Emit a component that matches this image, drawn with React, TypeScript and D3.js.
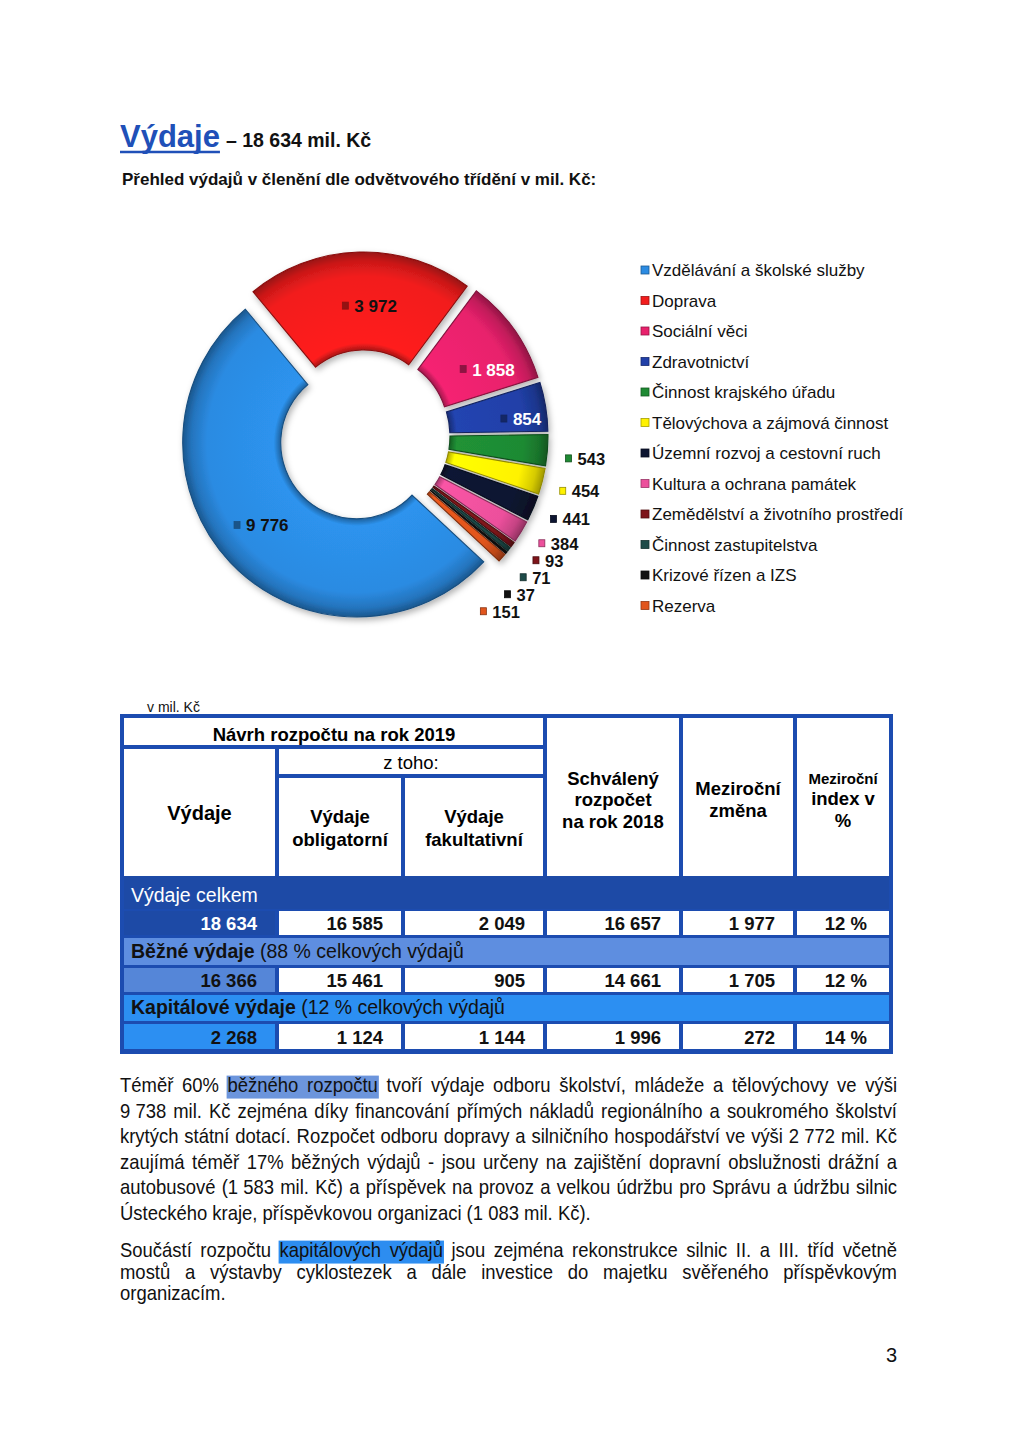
import React from 'react';
import * as d3 from 'd3';

// ---------- DATA ----------
const categories = [
  'Vzdělávání a školské služby',
  'Doprava',
  'Sociální věci',
  'Zdravotnictví',
  'Činnost krajského úřadu',
  'Tělovýchova a zájmová činnost',
  'Územní rozvoj a cestovní ruch',
  'Kultura a ochrana památek',
  'Zemědělství a životního prostředí',
  'Činnost zastupitelstva',
  'Krizové řízen a IZS',
  'Rezerva',
];
const values = [9776, 3972, 1858, 854, 543, 454, 441, 384, 93, 71, 37, 151];
const sliceColors = [
  '#2b8be2', '#f21d1d', '#e8216c', '#2140a8', '#1e8a33', '#fff200',
  '#0d1531', '#ec509c', '#7e141a', '#1e4b49', '#111111', '#e1551d',
];

const headTitle = 'Výdaje';
const headTotal = '– 18 634 mil. Kč';
const subTitle = 'Přehled výdajů v členění dle odvětvového třídění v mil. Kč:';
const unitNote = 'v mil. Kč';

const rowGroups = ['Výdaje celkem', 'Běžné výdaje', 'Kapitálové výdaje'];
const rowNotes = ['', ' (88 % celkových výdajů', ' (12 % celkových výdajů'];
const budget2019 = [18634, 16366, 2268];
const obligatory = [16585, 15461, 1124];
const facultative = [2049, 905, 1144];
const approved2018 = [16657, 14661, 1996];
const yoyChange = [1977, 1705, 272];
const yoyIndex = [12, 12, 14];

const paragraph1 = [
  'Téměř 60% běžného rozpočtu tvoří výdaje odboru školství, mládeže a tělovýchovy ve výši',
  '9\u00a0738 mil. Kč zejména díky financování přímých nákladů regionálního a soukromého školství',
  'krytých státní dotací. Rozpočet odboru dopravy a silničního hospodářství ve výši 2\u00a0772 mil. Kč',
  'zaujímá téměř 17% běžných výdajů - jsou určeny na zajištění dopravní obslužnosti drážní a',
  'autobusové (1\u00a0583 mil. Kč) a příspěvek na provoz a velkou údržbu pro Správu a údržbu silnic',
  'Ústeckého kraje, příspěvkovou organizaci (1\u00a0083 mil. Kč).',
];
const paragraph2 = [
  'Součástí rozpočtu kapitálových výdajů jsou zejména rekonstrukce silnic II. a III. tříd včetně',
  'mostů a výstavby cyklostezek a dále investice do majetku svěřeného příspěvkovým',
  'organizacím.',
];
const pageNumber = '3';

// ---------- HELPERS ----------
const FF = '"Liberation Sans", Arial, Helvetica, sans-serif';
const locale = d3.formatLocale({ decimal: ',', thousands: '\u00a0', grouping: [3], currency: ['', ''] });
const fmt = locale.format(',d');

let _ctx: CanvasRenderingContext2D | null = null;
function textWidth(s: string, weight: number, size: number) {
  if (!_ctx) _ctx = document.createElement('canvas').getContext('2d');
  if (!_ctx) return s.length * size * 0.5;
  _ctx.font = `${weight} ${size}px "Liberation Sans"`;
  return _ctx.measureText(s).width;
}

// ---------- DONUT ----------
function Donut() {
  const cx = 364, cy = 436, R = 174, r0 = 76, explode = 10;
  const start = (133 * Math.PI) / 180;
  const pieGen = d3.pie<number>().sort(null).value((d) => d)
    .startAngle(start).endAngle(start + 2 * Math.PI).padAngle(0.005);
  const arcs = pieGen(values);
  const arcGen = d3.arc<d3.PieArcDatum<number>>().innerRadius(r0).outerRadius(R);
  const labelSize = 17;
  const smallSize = 16.5;
  const deg = Math.PI / 180;

  // outside label layout for small slices
  const L = 192, Lx = 222, gap = 17, yShift = 8;
  let prevY = -Infinity;
  const outside: Record<number, { x: number; y: number }> = {};
  arcs.forEach((a, i) => {
    if (a.value >= 800) return;
    const mid = (a.startAngle + a.endAngle) / 2;
    let y = cy + yShift - L * Math.cos(mid);
    y = Math.max(y, prevY + gap);
    prevY = y;
    const dy = y - cy;
    const x = cx + Math.sqrt(Math.max(0, Lx * Lx - dy * dy));
    outside[i] = { x, y };
  });

  return (
    <g>
      <defs>
        <filter id="shadow" x="-20%" y="-20%" width="140%" height="140%">
          <feDropShadow dx="2" dy="3" stdDeviation="3" floodColor="#000" floodOpacity="0.3" />
        </filter>
        {arcs.map((a, i) => {
          const c = d3.color(sliceColors[i])!;
          return (
            <radialGradient key={i} id={`sg${i}`} gradientUnits="userSpaceOnUse" cx={0} cy={0} r={R}>
              <stop offset={r0 / R} stopColor={c.darker(1).formatHex()} />
              <stop offset={(r0 + 7) / R} stopColor={c.brighter(0.15).formatHex()} />
              <stop offset={0.86} stopColor={c.formatHex()} />
              <stop offset={0.95} stopColor={c.darker(0.5).formatHex()} />
              <stop offset={1} stopColor={c.darker(1.3).formatHex()} />
            </radialGradient>
          );
        })}
      </defs>
      <g filter="url(#shadow)">
        {arcs.map((a, i) => {
          const mid = (a.startAngle + a.endAngle) / 2;
          const dx = explode * Math.sin(mid), dy = -explode * Math.cos(mid);
          return (
            <g key={i} transform={`translate(${cx + dx},${cy + dy})`}>
              <path d={arcGen(a) || ''} fill={`url(#sg${i})`}
                stroke={d3.color(sliceColors[i])!.darker(1.6).formatHex()} strokeWidth={1.1} />
            </g>
          );
        })}
      </g>
      {arcs.map((a, i) => {
        const big = a.value >= 800;
        const size = big ? labelSize : smallSize;
        const txt = fmt(a.value);
        const tw = textWidth(txt, 700, size);
        const total = 13 + tw;
        let gx: number, gy: number;
        if (big) {
          const m0 = (a.startAngle + a.endAngle) / 2;
          const mid = m0 + 4 * deg;
          const sx = cx + explode * Math.sin(m0), sy = cy - explode * Math.cos(m0);
          const narrow = a.endAngle - a.startAngle < 0.35;
          const rad = narrow ? R - 6 - total / 2 : 124;
          gx = sx + rad * Math.sin(mid) + (i === 2 ? 9 : 0);
          gy = sy - rad * Math.cos(mid) + (narrow ? -2 : 4);
        } else {
          gx = outside[i].x;
          gy = outside[i].y;
        }
        const left = gx - total / 2;
        const white = i === 2 || i === 3;
        const c = d3.color(sliceColors[i])!;
        return (
          <g key={`l${i}`}>
            <rect x={left + 1} y={gy - 4} width={6} height={7} fill={big ? c.darker(1.4).formatHex() : sliceColors[i]}
              stroke={c.darker(1.5).formatHex()} strokeWidth={0.8} />
            <text x={left + 13} y={gy + 6} fontSize={size} fontWeight={700}
              fill={white ? '#ffffff' : '#111111'}>{txt}</text>
          </g>
        );
      })}
    </g>
  );
}

function Legend() {
  const x = 641, y0 = 270, step = 30.5;
  return (
    <g>
      {categories.map((c, i) => {
        const col = d3.color(sliceColors[i])!;
        return (
          <g key={i} transform={`translate(${x},${y0 + i * step})`}>
            <rect x={0} y={-4} width={8} height={8} fill={sliceColors[i]} stroke={col.darker(1.2).formatHex()} strokeWidth={0.8} />
            <text x={11} y={6} fontSize={17} fill="#111">{c}</text>
          </g>
        );
      })}
    </g>
  );
}

// ---------- TABLE ----------
function Table() {
  const border = '#1c4cb0';
  const bandColors = ['#1d4aa6', '#5e8ee0', '#2c8ff2'];
  const firstColColors = ['#1d4aa6', '#5586d8', '#2c8ff2'];
  const cols: [number, number][] = [[124, 275], [279, 401], [405, 543], [547, 679], [683, 793], [797, 889]];
  const bands: [number, number][] = [[876, 909], [938, 965], [995, 1021]];
  const rows: [number, number][] = [[911, 935], [968, 992], [1024, 1049]];
  const pads = [18, 18, 18, 18, 18, 22];
  const series = [budget2019, obligatory, facultative, approved2018, yoyChange];
  const hs = 18.5;
  const cxOf = (c: [number, number]) => (c[0] + c[1]) / 2;
  return (
    <g>
      <text x={147} y={712} fontSize={14} fill="#111">{unitNote}</text>
      <rect x={120} y={714} width={773} height={340} fill={border} />
      <rect x={124} y={718} width={543 - 124} height={745 - 718} fill="#fff" />
      <rect x={124} y={749} width={275 - 124} height={876 - 749} fill="#fff" />
      <rect x={279} y={749} width={543 - 279} height={774 - 749} fill="#fff" />
      <rect x={279} y={778} width={401 - 279} height={876 - 778} fill="#fff" />
      <rect x={405} y={778} width={543 - 405} height={876 - 778} fill="#fff" />
      <rect x={547} y={718} width={679 - 547} height={876 - 718} fill="#fff" />
      <rect x={683} y={718} width={793 - 683} height={876 - 718} fill="#fff" />
      <rect x={797} y={718} width={889 - 797} height={876 - 718} fill="#fff" />

      <text x={334} y={741} fontSize={hs} fontWeight={700} textAnchor="middle">Návrh rozpočtu na rok 2019</text>
      <text x={411} y={769} fontSize={hs} textAnchor="middle">z toho:</text>
      <text x={cxOf(cols[0])} y={820} fontSize={20} fontWeight={700} textAnchor="middle">Výdaje</text>
      <text x={cxOf(cols[1])} y={823} fontSize={hs} fontWeight={700} textAnchor="middle">Výdaje</text>
      <text x={cxOf(cols[1])} y={846} fontSize={hs} fontWeight={700} textAnchor="middle">obligatorní</text>
      <text x={cxOf(cols[2])} y={823} fontSize={hs} fontWeight={700} textAnchor="middle">Výdaje</text>
      <text x={cxOf(cols[2])} y={846} fontSize={hs} fontWeight={700} textAnchor="middle">fakultativní</text>
      <text x={cxOf(cols[3])} y={785} fontSize={hs} fontWeight={700} textAnchor="middle">Schválený</text>
      <text x={cxOf(cols[3])} y={806} fontSize={hs} fontWeight={700} textAnchor="middle">rozpočet</text>
      <text x={cxOf(cols[3])} y={828} fontSize={hs} fontWeight={700} textAnchor="middle">na rok 2018</text>
      <text x={cxOf(cols[4])} y={795} fontSize={hs} fontWeight={700} textAnchor="middle">Meziroční</text>
      <text x={cxOf(cols[4])} y={817} fontSize={hs} fontWeight={700} textAnchor="middle">změna</text>
      <text x={cxOf(cols[5])} y={784} fontSize={15} fontWeight={700} textAnchor="middle">Meziroční</text>
      <text x={cxOf(cols[5])} y={805} fontSize={hs} fontWeight={700} textAnchor="middle">index v</text>
      <text x={cxOf(cols[5])} y={827} fontSize={hs} fontWeight={700} textAnchor="middle">%</text>

      {rowGroups.map((g, r) => (
        <g key={r}>
          <rect x={124} y={bands[r][0]} width={889 - 124} height={bands[r][1] - bands[r][0]} fill={bandColors[r]} />
          <rect x={124} y={rows[r][0]} width={275 - 124} height={rows[r][1] - rows[r][0]} fill={firstColColors[r]} />
          {cols.slice(1).map((c, ci) => (
            <rect key={ci} x={c[0]} y={rows[r][0]} width={c[1] - c[0]} height={rows[r][1] - rows[r][0]} fill="#fff" />
          ))}
          <text x={131} y={bands[r][1] - 7} fontSize={19.5} fill={r === 0 ? '#fff' : '#111'}>
            <tspan fontWeight={r === 0 ? 400 : 700}>{g}</tspan>
            {rowNotes[r] ? <tspan>{rowNotes[r]}</tspan> : null}
          </text>
          {series.map((s, ci) => (
            <text key={ci} x={cols[ci][1] - pads[ci]} y={rows[r][1] - 5} fontSize={hs} fontWeight={700}
              textAnchor="end" fill={r === 0 && ci === 0 ? '#fff' : '#111'}>{fmt(s[r])}</text>
          ))}
          <text x={cols[5][1] - pads[5]} y={rows[r][1] - 5} fontSize={hs} fontWeight={700} textAnchor="end" fill="#111">
            {`${yoyIndex[r]} %`}
          </text>
        </g>
      ))}
    </g>
  );
}

// ---------- PARAGRAPH ----------
type HL = { line: number; from: number; to: number; color: string };
function Paragraph({ lines, x0, width, y0, lh, size, k, highlights }:
  { lines: string[]; x0: number; width: number; y0: number; lh: number; size: number; k: number; highlights: HL[] }) {
  return (
    <g>
      {lines.map((line, li) => {
        const words = line.split(' ');
        const space = textWidth(' ', 400, size);
        const ws0 = words.map((w) => textWidth(w, 400, size));
        const sum0 = d3.sum(ws0);
        const last = li === lines.length - 1;
        let kk = k;
        const need = sum0 + (words.length - 1) * space * 0.7;
        if (!last && need * kk > width) kk = width / need;
        const localW = width / kk;
        const gap = last || words.length < 2 ? space : (localW - sum0) / (words.length - 1);
        let acc = 0;
        const xs = ws0.map((w) => { const x = acc; acc += w + gap; return x; });
        const y = y0 + li * lh;
        return (
          <g key={li}>
            {highlights.filter((h) => h.line === li).map((h, hi) => (
              <rect key={hi} x={x0 + kk * xs[h.from] - 1} y={y - size * 0.8}
                width={kk * (xs[h.to] + ws0[h.to] - xs[h.from]) + 2}
                height={size * 1.12} fill={h.color} />
            ))}
            <text transform={`translate(${x0},${y}) scale(${kk},1)`} fontSize={size} fill="#111">
              {words.map((w, i) => <tspan key={i} x={xs[i]} y={0}>{w}</tspan>)}
            </text>
          </g>
        );
      })}
    </g>
  );
}

export default function App() {
  const W = 1024, H = 1444;
  const titleW = textWidth(headTitle, 700, 31);
  return (
    <svg width={W} height={H} viewBox={`0 0 ${W} ${H}`} fontFamily={FF}
      style={{ position: 'absolute', left: 0, top: 0, background: '#fff' }}>
      <rect width={W} height={H} fill="#fff" />
      <text x={120} y={147} fontSize={31} fontWeight={700} fill="#2050b8">{headTitle}</text>
      <line x1={120} x2={120 + titleW} y1={152} y2={152} stroke="#2050b8" strokeWidth={2.5} />
      <text x={126 + titleW} y={147} fontSize={19.5} fontWeight={700} fill="#111">{headTotal}</text>
      <text x={122} y={185} fontSize={17} fontWeight={700} fill="#111">{subTitle}</text>

      <Donut />
      <Legend />
      <Table />

      <Paragraph lines={paragraph1} x0={120} width={777} y0={1092} lh={25.6} size={20.5} k={0.9}
        highlights={[{ line: 0, from: 2, to: 3, color: '#6c95dc' }]} />
      <Paragraph lines={paragraph2} x0={120} width={777} y0={1257} lh={21.5} size={20.5} k={0.9}
        highlights={[{ line: 0, from: 2, to: 3, color: '#2d8df0' }]} />

      <text x={897} y={1362} fontSize={20} textAnchor="end" fill="#111">{pageNumber}</text>
    </svg>
  );
}
